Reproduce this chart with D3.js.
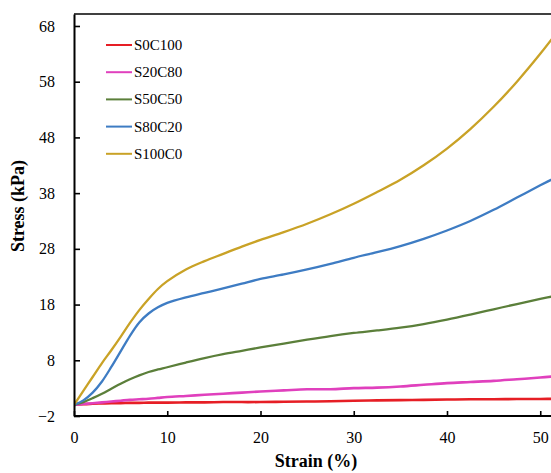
<!DOCTYPE html>
<html>
<head>
<meta charset="utf-8">
<script src="https://cdn.jsdelivr.net/npm/d3@7"></script>
<style>
  body { margin: 0; background: #fff; }
  svg text { font-family: "Liberation Serif", "Times New Roman", serif; fill: #000; }
</style>
</head>
<body>
<div id="chart"></div>
<script>
// strain (%) sample points
var strain = [0, 1, 2, 3, 4, 5, 6, 7, 8, 9, 10, 12, 14, 16, 18, 20, 22.5, 25, 27.5, 30, 32.5, 35, 37.5, 40, 42.5, 45, 47.5, 50, 52];

// stress (kPa) for each mix
var s0c100  = [0, 0.1, 0.2, 0.25, 0.3, 0.3, 0.35, 0.35, 0.4, 0.4, 0.4, 0.45, 0.45, 0.5, 0.5, 0.5, 0.55, 0.6, 0.65, 0.75, 0.8, 0.85, 0.9, 0.95, 1.0, 1.0, 1.05, 1.05, 1.1];
var s20c80  = [0, 0.15, 0.3, 0.45, 0.6, 0.75, 0.9, 1.0, 1.1, 1.25, 1.4, 1.6, 1.8, 2.0, 2.2, 2.4, 2.6, 2.8, 2.8, 3.0, 3.1, 3.3, 3.6, 3.9, 4.1, 4.3, 4.6, 4.9, 5.2];
var s50c50  = [0, 0.5, 1.2, 2.0, 2.9, 3.8, 4.6, 5.3, 5.9, 6.35, 6.75, 7.6, 8.4, 9.1, 9.7, 10.3, 11.0, 11.7, 12.35, 12.9, 13.35, 13.85, 14.5, 15.3, 16.2, 17.15, 18.1, 19.0, 19.7];
var s80c20  = [0, 0.8, 2.2, 4.2, 6.8, 9.6, 12.4, 14.8, 16.4, 17.5, 18.3, 19.3, 20.1, 20.9, 21.75, 22.6, 23.4, 24.3, 25.3, 26.4, 27.4, 28.5, 29.8, 31.3, 33.0, 35.0, 37.2, 39.4, 41.1];
var s100c0  = [0, 2.5, 5.0, 7.5, 9.8, 12.2, 14.7, 17.0, 19.0, 20.8, 22.2, 24.3, 25.8, 27.1, 28.4, 29.6, 31.0, 32.5, 34.2, 36.1, 38.2, 40.4, 43.0, 46.0, 49.5, 53.5, 58.0, 63.0, 67.3];

var seriesNames = ["S0C100", "S20C80", "S50C50", "S80C20", "S100C0"];
var seriesValues = [s0c100, s20c80, s50c50, s80c20, s100c0];
var seriesColors = ["#e61e25", "#e040bd", "#5b7f3a", "#3e7cc3", "#c9a226"];

var xTicks = [0, 10, 20, 30, 40, 50];
var yTicks = [-2, 8, 18, 28, 38, 48, 58, 68];

(function() {
  var totalWidth = 551, totalHeight = 473;
  var plotLeft = 74, plotTop = 14, plotBottom = 416, plotRight = 551;

  var svg = d3.select("#chart")
    .append("svg")
      .attr("width", totalWidth)
      .attr("height", totalHeight);

  // scales (x runs past the cropped right edge)
  var xScale = d3.scaleLinear().domain([0, 52]).range([plotLeft, plotLeft + 52 * 9.325]);
  var yScale = d3.scaleLinear().domain([-2, 70.15]).range([plotBottom, plotTop]);

  svg.append("defs").append("clipPath")
      .attr("id", "plotclip")
    .append("rect")
      .attr("x", plotLeft)
      .attr("y", plotTop)
      .attr("width", plotRight - plotLeft)
      .attr("height", plotBottom - plotTop);

  // curves
  var line = d3.line()
    .x(function(d) { return xScale(d[0]); })
    .y(function(d) { return yScale(d[1]); })
    .curve(d3.curveCatmullRom.alpha(0.5));

  var curves = svg.append("g").attr("clip-path", "url(#plotclip)");
  seriesValues.forEach(function(vals, i) {
    var pts = strain.map(function(s, j) { return [s, vals[j]]; });
    curves.append("path")
      .datum(pts)
      .attr("fill", "none")
      .attr("stroke", seriesColors[i])
      .attr("stroke-width", i < 2 ? 2.6 : 2.3)
      .attr("stroke-linejoin", "round")
      .attr("d", line);
  });

  // axes, ticks pointing inward
  var xAxis = d3.axisBottom(xScale).tickValues(xTicks).tickSizeInner(-5).tickSizeOuter(0).tickPadding(16);
  var yAxis = d3.axisLeft(yScale).tickValues(yTicks).tickSizeInner(-6).tickSizeOuter(0).tickPadding(19);

  var gx = svg.append("g")
      .attr("transform", "translate(0," + plotBottom + ")")
      .call(xAxis);
  var gy = svg.append("g")
      .attr("transform", "translate(" + plotLeft + ",0)")
      .call(yAxis);

  [gx, gy].forEach(function(g) {
    g.select(".domain").attr("stroke", "#000").attr("stroke-width", 2);
    g.selectAll(".tick line").attr("stroke", "#000").attr("stroke-width", 1.6);
    g.selectAll(".tick text")
      .style("font-family", "'Liberation Serif', serif")
      .style("font-size", "16px")
      .attr("fill", "#000");
  });
  gx.select(".domain").attr("d", "M" + plotLeft + ",0H" + plotRight);

  // top frame line
  svg.append("line")
      .attr("x1", plotLeft).attr("x2", plotRight)
      .attr("y1", plotTop).attr("y2", plotTop)
      .attr("stroke", "#000")
      .attr("stroke-width", 1.6);

  // axis titles
  svg.append("text")
      .attr("x", 316)
      .attr("y", 467)
      .style("text-anchor", "middle")
      .style("font-size", "18px")
      .style("font-weight", "bold")
      .text("Strain (%)");

  svg.append("text")
      .attr("transform", "translate(24,206) rotate(-90)")
      .style("text-anchor", "middle")
      .style("font-size", "18px")
      .style("font-weight", "bold")
      .text("Stress (kPa)");

  // legend
  var legend = svg.append("g").attr("transform", "translate(106,45)");
  seriesNames.forEach(function(name, i) {
    var row = legend.append("g").attr("transform", "translate(0," + (i * 27.2) + ")");
    row.append("line")
      .attr("x1", 0).attr("x2", 26)
      .attr("y1", 0).attr("y2", 0)
      .attr("stroke", seriesColors[i])
      .attr("stroke-width", 2);
    row.append("text")
      .attr("x", 28)
      .attr("y", 5)
      .style("font-size", "15px")
      .text(name);
  });
})();
</script>
</body>
</html>
